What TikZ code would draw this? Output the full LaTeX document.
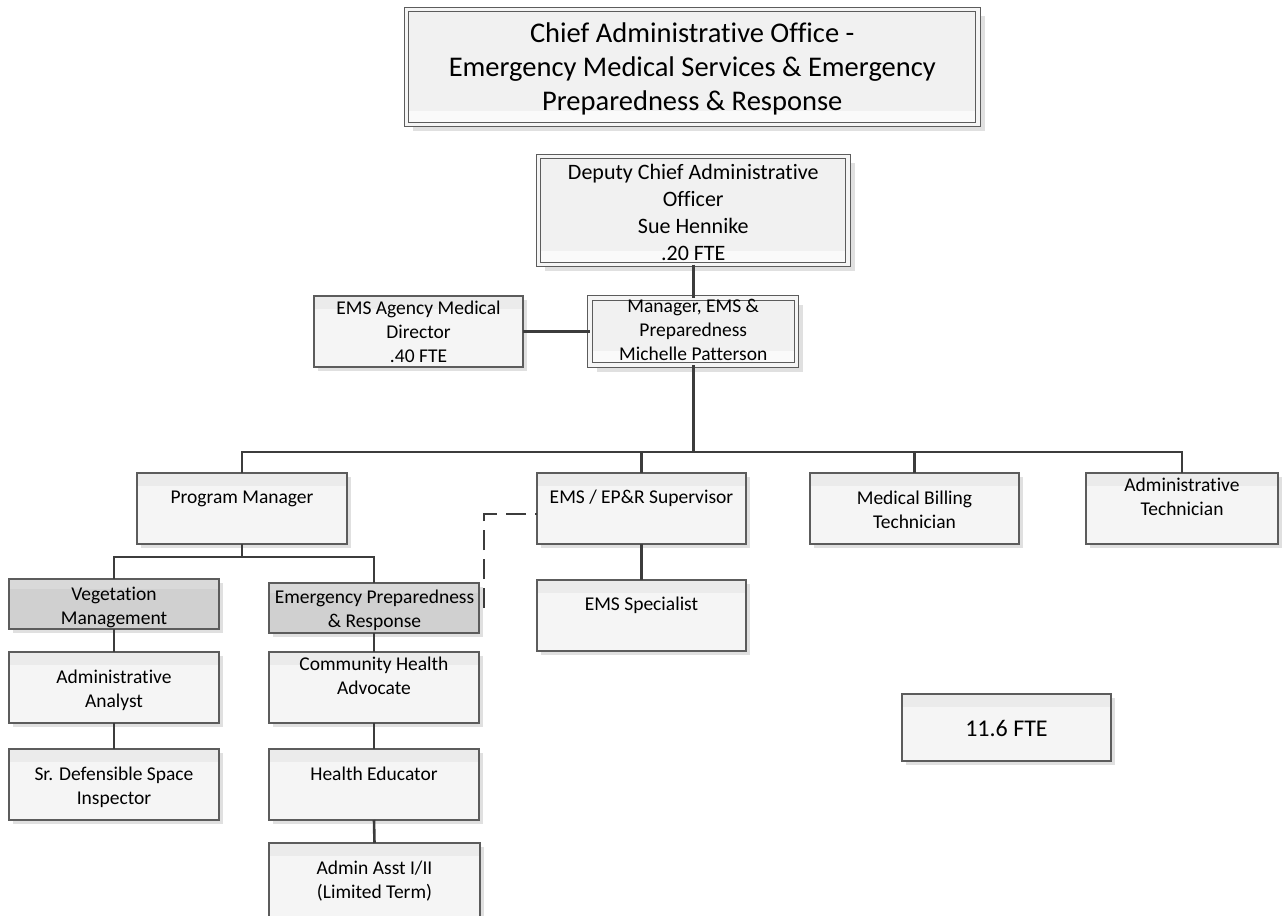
\documentclass[tikz,border=0pt]{standalone}
\usepackage{fontspec}
\setmainfont{Carlito}[Ligatures={NoCommon}]
\usetikzlibrary{shadows}
\definecolor{edgec}{HTML}{3C3C3C}
\definecolor{bord}{HTML}{5C5C5C}
\definecolor{boxfill}{HTML}{F5F5F5}
\definecolor{boxband}{HTML}{EBEBEB}
\definecolor{dfill}{HTML}{F1F1F1}
\definecolor{dband}{HTML}{FAFAFA}
\definecolor{grayfill}{HTML}{D0D0D0}
\definecolor{grayband}{HTML}{D9D9D9}
\definecolor{shadec}{HTML}{E0E0E0}
\begin{document}
\begin{tikzpicture}[x=1pt,y=-1pt,
  box/.style={draw=bord, line width=1.3pt, fill=boxfill, inner sep=0pt, outer sep=0pt,
    drop shadow={shadow xshift=4pt, shadow yshift=-4pt, fill=shadec, opacity=1},
    path picture={\fill[boxband] (path picture bounding box.north west) rectangle ([yshift=-13pt]path picture bounding box.north east);}},
  graybox/.style={draw=bord, line width=1.3pt, fill=grayfill, inner sep=0pt, outer sep=0pt,
    drop shadow={shadow xshift=4pt, shadow yshift=-4pt, fill=shadec, opacity=1},
    path picture={\fill[grayband] (path picture bounding box.north west) rectangle ([yshift=-10pt]path picture bounding box.north east);}},
  dbox/.style={draw=bord, line width=1.1pt, double=white!96!black, double distance=3.5pt, fill=dfill, inner sep=0pt, outer sep=0pt,
    drop shadow={shadow xshift=6.5pt, shadow yshift=-6.5pt, fill=shadec, opacity=1},
    path picture={\fill[dband] (path picture bounding box.south west) rectangle ([yshift=14pt]path picture bounding box.south east);}},
  txt/.style={anchor=north, inner sep=0pt, outer sep=0pt, align=center, text=black},
  t19/.style={txt, font=\fontsize{19.5}{24}\selectfont, execute at begin node={\rule{0pt}{15.6pt}}},
  t19s/.style={txt, font=\fontsize{19.5}{24}\selectfont, execute at begin node={\rule{0pt}{15.6pt}}},
  t22/.style={txt, font=\fontsize{22}{27}\selectfont, execute at begin node={\rule{0pt}{17.6pt}}},
  t28/.style={txt, font=\fontsize{28.5}{34}\selectfont, execute at begin node={\rule{0pt}{22.8pt}}},
  t24/.style={txt, font=\fontsize{24}{29}\selectfont, execute at begin node={\rule{0pt}{19.2pt}}},
  conn/.style={draw=edgec, line width=2.6pt},
  dconn/.style={draw=edgec, line width=2.6pt, dash pattern=on 20pt off 9pt}
]
\useasboundingbox (0,0) rectangle (1283,916);
\clip (0,0) rectangle (1283,916);
\fill[white] (0,0) rectangle (1283,916);

% boxes
\node[dbox, minimum width=571.5pt, minimum height=115pt] (chief) at (692.25,67) {};
\node[dbox, minimum width=309.5pt, minimum height=108pt] (dep) at (693.25,210.5) {};
\node[dbox, minimum width=206.5pt, minimum height=67pt] (mgr) at (693.25,331.5) {};
\node[box, minimum width=209pt, minimum height=71pt] (dir) at (418.5,331.5) {};

\node[box, minimum width=210pt, minimum height=71pt] (pm) at (242,508.5) {};
\node[box, minimum width=209pt, minimum height=71pt] (sup) at (641.5,508.5) {};
\node[box, minimum width=209pt, minimum height=71pt] (mbt) at (914.5,508.5) {};
\node[box, minimum width=192pt, minimum height=71pt] (at) at (1182,508.5) {};
\node[box, minimum width=209pt, minimum height=71pt] (spec) at (641.5,615.5) {};

\node[graybox, minimum width=210pt, minimum height=50pt] (veg) at (114,604) {};
\node[graybox, minimum width=210pt, minimum height=50pt] (epr) at (374,608) {};
\node[box, minimum width=210pt, minimum height=71pt] (aa) at (114,687.5) {};
\node[box, minimum width=210pt, minimum height=71pt] (sdsi) at (114,784.5) {};
\node[box, minimum width=210pt, minimum height=71pt] (cha) at (374,687.5) {};
\node[box, minimum width=210pt, minimum height=71pt] (he) at (374,784.5) {};
\node[box, minimum width=211pt, minimum height=80pt] (aai) at (374.5,883) {};

\node[box, minimum width=209pt, minimum height=67pt] (fte) at (1006.5,727.5) {};

% texts
\node[t28] (chief-t) at (692.25,23.2) {Chief Administrative Office -\\Emergency Medical Services \& Emergency\\Preparedness \& Response};
\node[t22] (dep-t) at (693.25,164) {Deputy Chief Administrative\\Officer\\Sue Hennike\\.20 FTE};
\node[t19s] (mgr-t) at (693.25,299.5) {Manager, EMS \&\\Preparedness\\Michelle Patterson};
\node[t19s] (dir-t) at (418.5,301) {EMS Agency Medical\\Director\\.40 FTE};
\node[t19] (pm-t) at (242,487.7) {Program Manager};
\node[t19] (sup-t) at (641.5,487.7) {EMS / EP\&R Supervisor};
\node[t19s] (mbt-t) at (914.5,491.4) {Medical Billing\\Technician};
\node[t19] (at-t) at (1182,478.4) {Administrative\\Technician};
\node[t19] (spec-t) at (641.5,594.4) {EMS Specialist};
\node[t19s] (veg-t) at (114,586.7) {Vegetation\\Management};
\node[t19s] (epr-t) at (374.5,589.7) {Emergency Preparedness\\\& Response};
\node[t19] (aa-t) at (114,669.7) {Administrative\\Analyst};
\node[t19] (cha-t) at (374,657.4) {Community Health\\Advocate};
\node[t19] (sdsi-t) at (114,766.7) {Sr. Defensible Space\\Inspector};
\node[t19] (he-t) at (374,764.7) {Health Educator};
\node[t19] (aai-t) at (374.5,861.4) {Admin Asst I/II\\(Limited Term)};
\node[t24] (fte-t) at (1006.5,716.8) {11.6 FTE};

% connectors
\coordinate (bus) at (0,452);
\coordinate (subbus) at (0,557);
\draw[conn] (dep.south) -- (dep.south |- mgr.north);
\draw[conn] (dir.east) -- (mgr.west);
\draw[conn] (mgr.south) -- (mgr.south |- bus) -| (pm.north);
\draw[conn] (mgr.south |- bus) -| (sup.north);
\draw[conn] (mgr.south |- bus) -| (mbt.north);
\draw[conn] (mgr.south |- bus) -| (at.north);
\draw[conn] (pm.south) -- (pm.south |- subbus) -| (veg.north);
\draw[conn] (pm.south |- subbus) -| (epr.north);
\draw[conn] (veg.south) -- (aa.north);
\draw[conn] (aa.south) -- (sdsi.north);
\draw[conn] (epr.south) -- (cha.north);
\draw[conn] (cha.south) -- (he.north);
\draw[conn] (he.south) -- (aai.north);
\draw[conn] (sup.south) -- (spec.north);
\coordinate (dstart) at ([xshift=5pt]epr.east);
\draw[dconn] (dstart) |- ([yshift=-5.5pt]sup.west);
\end{tikzpicture}
\end{document}
